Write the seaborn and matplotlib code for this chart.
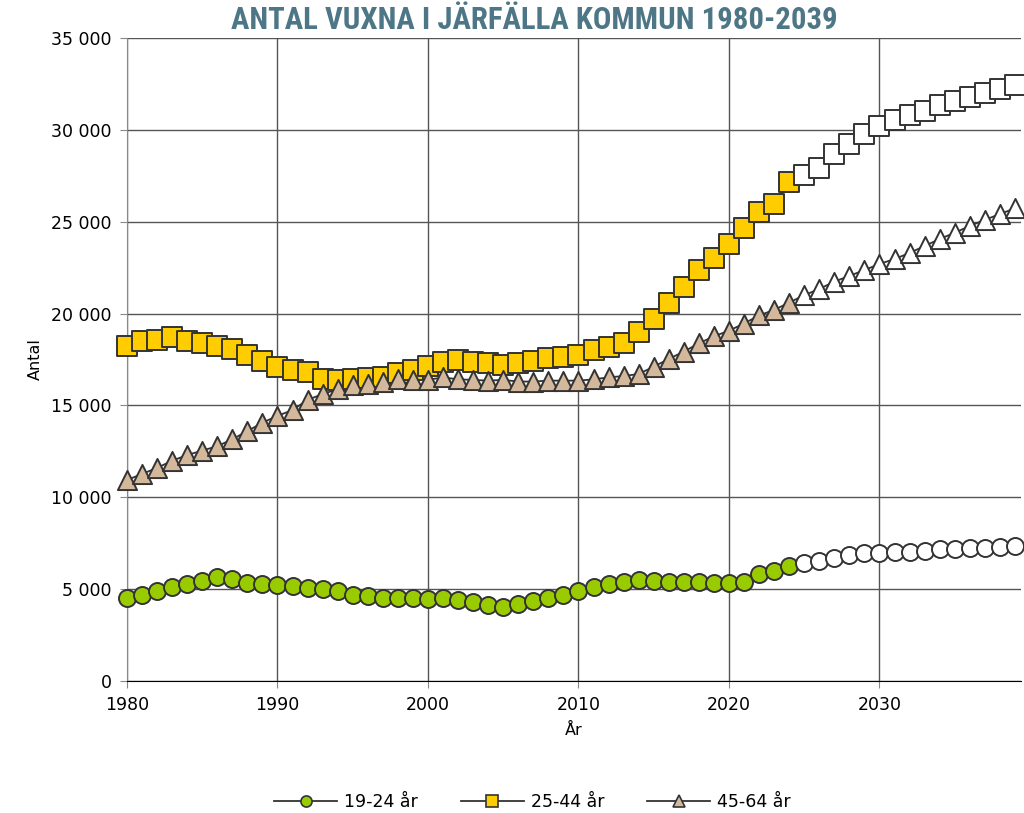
import numpy as np
import pandas as pd
import matplotlib
matplotlib.use("Agg")
import matplotlib.pyplot as plt
import seaborn as sns
from matplotlib.lines import Line2D
from matplotlib import font_manager

# years 1980-2039, from 2025 on the values are projections (hollow markers)
years = list(range(1980, 2040))
first_projection_year = 2025

age_19_24 = [4.54, 4.68, 4.92, 5.10, 5.26, 5.46, 5.64, 5.55, 5.35, 5.26,
             5.20, 5.19, 5.04, 4.99, 4.90, 4.68, 4.63, 4.50, 4.50, 4.54,
             4.46, 4.50, 4.41, 4.32, 4.14, 4.01, 4.17, 4.37, 4.50, 4.68,
             4.92, 5.10, 5.28, 5.40, 5.50, 5.46, 5.37, 5.40, 5.40, 5.34,
             5.36, 5.40, 5.85, 5.99, 6.28, 6.44, 6.53, 6.71, 6.86, 6.95,
             6.98, 7.00, 7.04, 7.09, 7.17, 7.19, 7.22, 7.26, 7.31, 7.37]

age_25_44 = [18.22, 18.52, 18.56, 18.70, 18.52, 18.38, 18.25, 18.05, 17.73, 17.42,
             17.11, 16.93, 16.80, 16.44, 16.39, 16.46, 16.51, 16.57, 16.75, 16.93,
             17.16, 17.38, 17.50, 17.38, 17.33, 17.20, 17.30, 17.44, 17.57, 17.62,
             17.75, 18.02, 18.16, 18.38, 19.00, 19.68, 20.60, 21.45, 22.37, 23.04,
             23.78, 24.64, 25.55, 25.95, 27.18, 27.54, 27.90, 28.70, 29.25, 29.80,
             30.20, 30.55, 30.80, 31.05, 31.34, 31.60, 31.77, 32.00, 32.20, 32.45]

age_45_64 = [10.94, 11.27, 11.60, 11.99, 12.30, 12.54, 12.78, 13.16, 13.60, 14.06,
             14.43, 14.75, 15.30, 15.62, 15.88, 16.11, 16.17, 16.28, 16.42, 16.40,
             16.39, 16.53, 16.42, 16.39, 16.35, 16.39, 16.30, 16.30, 16.35, 16.35,
             16.35, 16.42, 16.53, 16.60, 16.71, 17.11, 17.53, 17.93, 18.38, 18.76,
             19.07, 19.46, 19.90, 20.20, 20.60, 21.00, 21.34, 21.74, 22.05, 22.37,
             22.70, 22.97, 23.30, 23.68, 24.06, 24.40, 24.77, 25.10, 25.42, 25.73]

series_labels = ["19-24 år", "25-44 år", "45-64 år"]
series_values = [age_19_24, age_25_44, age_45_64]
series_colors = ["#99cc00", "#ffcc00", "#d4b89c"]
series_markers = ["o", "s", "^"]
marker_sizes = [150, 190, 190]

edge = "#333333"

fig = plt.figure(figsize=(10.24, 8.13), dpi=100)
ax = fig.add_axes([0.124, 0.1624, 0.873, 0.7908])

for label, vals, col, mk, ms in zip(series_labels, series_values, series_colors,
                                    series_markers, marker_sizes):
    df = pd.DataFrame({"year": years, "value": np.array(vals) * 1000})
    hist = df[df["year"] < first_projection_year]
    proj = df[df["year"] >= first_projection_year]
    sns.lineplot(data=df, x="year", y="value", color=edge, linewidth=1.3,
                 ax=ax, zorder=3, clip_on=False)
    sns.scatterplot(data=hist, x="year", y="value", marker=mk, s=ms,
                    color=col, edgecolor=edge, linewidth=1.4, ax=ax,
                    zorder=4, clip_on=False)
    sns.scatterplot(data=proj, x="year", y="value", marker=mk, s=ms,
                    color="white", edgecolor=edge, linewidth=1.4, ax=ax,
                    zorder=4, clip_on=False)

ax.set_xlim(1980, 2039.4)
ax.set_ylim(0, 35000)
ax.set_xticks([1980, 1990, 2000, 2010, 2020, 2030])
ax.set_yticks(range(0, 35001, 5000))
ax.set_yticklabels([f"{v:,}".replace(",", " ") for v in range(0, 35001, 5000)])
ax.grid(True, color="#555555", linewidth=1.0)
ax.set_axisbelow(True)
for s in ["top", "right"]:
    ax.spines[s].set_visible(False)
ax.spines["left"].set_color("#888888")
ax.spines["bottom"].set_color("black")
ax.tick_params(axis="both", labelsize=12.5, length=5, color="#888888", pad=6)

ax.set_xlabel("År", fontsize=11.5, labelpad=6)
ax.set_ylabel("Antal", fontsize=11.5, labelpad=6)

# condensed bold face for the title if one is installed
title_font = ["DejaVu Sans"]
names = {f.name for f in font_manager.fontManager.ttflist}
for cand in ["Liberation Sans Narrow", "Roboto Condensed", "Open Sans Condensed"]:
    if cand in names:
        title_font = [cand, "DejaVu Sans"]
        break
title = fig.text(0.522, 0.975, "ANTAL VUXNA I JÄRFÄLLA KOMMUN 1980-2039",
                 ha="center", va="center", fontsize=21, fontweight="bold",
                 fontstretch="condensed", color="#4d7686", family=title_font)
# scale to the width seen in the reference (about 606 px)
fig.canvas.draw()
w = title.get_window_extent().width
title.set_fontsize(21 * 606 / w)

handles = [Line2D([0], [0], color=edge, linewidth=1.3, marker=mk, markersize=8,
                  markerfacecolor=col, markeredgecolor=edge, markeredgewidth=1.2)
           for col, mk in zip(series_colors, series_markers)]
fig.legend(handles, series_labels, loc="center", bbox_to_anchor=(0.52, 0.014),
           ncol=3, frameon=False, fontsize=12.5, handlelength=3.6,
           columnspacing=2.5, handletextpad=0.4)

fig.savefig("out.png", dpi=100)
